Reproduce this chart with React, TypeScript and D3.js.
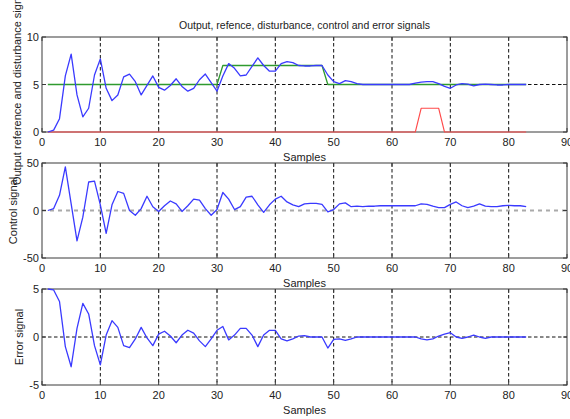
import React from "react";
import * as d3 from "d3";

// Sample index 1..83
const samples: number[] = Array.from({ length: 83 }, (_, i) => i + 1);

const outputSignal: number[] = [
  0, 0.2, 1.4, 5.9, 8.2, 3.9, 1.6, 2.5, 6.0, 7.7,
  4.6, 3.3, 3.9, 5.8, 6.1, 5.3, 3.9, 4.9, 5.9, 4.7,
  4.4, 4.9, 5.6, 4.8, 4.3, 4.6, 5.5, 6.1, 5.2, 4.3,
  5.9, 7.2, 6.7, 5.9, 6.0, 6.9, 7.8, 7.0, 6.4, 6.4,
  7.2, 7.4, 7.3, 7.0, 6.95, 6.95, 7.0, 7.0, 6.0, 5.3,
  5.1, 5.4, 5.3, 5.1, 5.0, 5.0, 5.0, 5.0, 5.0, 5.0,
  5.0, 5.0, 5.0, 5.15, 5.25, 5.3, 5.3, 5.1, 4.8, 4.6,
  4.95, 5.1, 5.05, 4.85, 5.0, 5.05, 5.0, 4.95, 4.95, 5.0,
  5.0, 5.0, 5.0,
];

const referenceSignal: number[] = [
  5, 5, 5, 5, 5, 5, 5, 5, 5, 5,
  5, 5, 5, 5, 5, 5, 5, 5, 5, 5,
  5, 5, 5, 5, 5, 5, 5, 5, 5, 5,
  7, 7, 7, 7, 7, 7, 7, 7, 7, 7,
  7, 7, 7, 7, 7, 7, 7, 7, 5, 5,
  5, 5, 5, 5, 5, 5, 5, 5, 5, 5,
  5, 5, 5, 5, 5, 5, 5, 5, 5, 5,
  5, 5, 5, 5, 5, 5, 5, 5, 5, 5,
  5, 5, 5,
];

const disturbanceSignal: number[] = [
  0, 0, 0, 0, 0, 0, 0, 0, 0, 0,
  0, 0, 0, 0, 0, 0, 0, 0, 0, 0,
  0, 0, 0, 0, 0, 0, 0, 0, 0, 0,
  0, 0, 0, 0, 0, 0, 0, 0, 0, 0,
  0, 0, 0, 0, 0, 0, 0, 0, 0, 0,
  0, 0, 0, 0, 0, 0, 0, 0, 0, 0,
  0, 0, 0, 0, 2.5, 2.5, 2.5, 2.5, 0, 0,
  0, 0, 0, 0, 0, 0, 0, 0, 0, 0,
  0, 0, 0,
];

const controlSignal: number[] = [
  0, 2, 16, 46, 7, -32, -7, 30, 31, 6,
  -24, 6, 20, 18, 0, -5, 2, 15, 4, -1,
  5, 10, 7, -1, 5, 12, 11, 2, -5, 1,
  19, 12, 1, 4, 14, 15, 6, -2, 6, 12,
  15, 9, 6, 4, 7, 7.5, 7.5, 6.5, -1.5, 1,
  7, 8, 4, 4.5, 4, 4.5, 4.5, 5, 5, 5,
  5, 5, 5, 5, 7, 6.5, 4.5, 3, 3, 6.5,
  9, 5, 3, 4.5, 7, 4.5, 4, 4, 5, 5.5,
  5, 5, 4,
];

const errorSignal: number[] = [
  5, 4.9, 3.7, -1, -3.1, 0.9, 3.5, 2.4, -0.9, -2.9,
  0.2, 1.7, 1.0, -0.9, -1.1, -0.2, 1.0, -0.1, -0.9, 0.3,
  0.6, 0.1, -0.6, 0.2, 0.7, 0.4, -0.4, -1.0, -0.2, 0.7,
  1.1, -0.3, 0.2, 0.9, 0.9, 0.2, -1.0, 0.2, 0.7, 0.7,
  -0.2, -0.4, -0.2, 0.1, 0.15, 0, 0, 0, -1.15, -0.25,
  -0.2, -0.35, -0.2, 0, 0, 0, 0, 0, 0, 0,
  0, 0, 0, 0, -0.2, -0.3, -0.2, 0.1, 0.3, 0.45,
  0, -0.15, 0, 0.2, 0, -0.15, 0, 0, 0, 0,
  0, 0, 0,
];

const xTicks: number[] = [0, 10, 20, 30, 40, 50, 60, 70, 80, 90];
const xGrid: number[] = [10, 20, 30, 40, 50, 60, 70, 80];

const titleText = "Output, refence, disturbance, control and error signals";
const xLabelText = "Samples";

const FONT = "'Liberation Sans', Arial, Helvetica, sans-serif";
const W = 570;
const H = 419;
const LEFT = 42;
const RIGHT = 567;

type Series = { values: number[]; color: string; width: number };

type PanelProps = {
  top: number;
  bottom: number;
  yDomain: [number, number];
  yTicks: number[];
  refLine: { value: number; color: string; width: number; dash: string };
  series: Series[];
  yLabel: string;
  yLabelX: number;
};

function Panel({ top, bottom, yDomain, yTicks, refLine, series, yLabel, yLabelX }: PanelProps) {
  const x = d3.scaleLinear().domain([0, 90]).range([LEFT, RIGHT]);
  const y = d3.scaleLinear().domain(yDomain).range([bottom, top]);
  const line = (vals: number[]) =>
    d3
      .line<number>()
      .x((_, i) => x(samples[i]))
      .y((v) => y(v))(vals) ?? "";
  const midY = (top + bottom) / 2;
  return (
    <g>
      {/* vertical grid */}
      {xGrid.map((t) => (
        <line
          key={"g" + t}
          x1={x(t)}
          x2={x(t)}
          y1={top}
          y2={bottom}
          stroke="#111"
          strokeWidth={1}
          strokeDasharray="3.5,2.5"
        />
      ))}
      {/* horizontal reference line */}
      <line
        x1={LEFT}
        x2={RIGHT}
        y1={y(refLine.value)}
        y2={y(refLine.value)}
        stroke={refLine.color}
        strokeWidth={refLine.width}
        strokeDasharray={refLine.dash}
      />
      {/* axes box */}
      <rect
        x={LEFT}
        y={top}
        width={RIGHT - LEFT}
        height={bottom - top}
        fill="none"
        stroke="#3a3a3a"
        strokeWidth={1}
      />
      {/* tick marks */}
      {xTicks.map((t) => (
        <g key={"t" + t}>
          <line x1={x(t)} x2={x(t)} y1={bottom} y2={bottom - 4} stroke="#3a3a3a" />
          <line x1={x(t)} x2={x(t)} y1={top} y2={top + 4} stroke="#3a3a3a" />
        </g>
      ))}
      {yTicks.map((t) => (
        <g key={"yt" + t}>
          <line x1={LEFT} x2={LEFT + 4} y1={y(t)} y2={y(t)} stroke="#3a3a3a" />
          <line x1={RIGHT} x2={RIGHT - 4} y1={y(t)} y2={y(t)} stroke="#3a3a3a" />
        </g>
      ))}
      {/* data lines */}
      {series.map((s, i) => (
        <path
          key={"s" + i}
          d={line(s.values)}
          fill="none"
          stroke={s.color}
          strokeWidth={s.width}
          strokeLinejoin="round"
        />
      ))}
      {/* x tick labels */}
      {xTicks.map((t) => (
        <text
          key={"xl" + t}
          x={x(t)}
          y={bottom + 14}
          textAnchor="middle"
          fontSize={11}
          fontFamily={FONT}
          fill="#222"
        >
          {t}
        </text>
      ))}
      {/* y tick labels */}
      {yTicks.map((t) => (
        <text
          key={"yl" + t}
          x={39}
          y={y(t) + 4}
          textAnchor="end"
          fontSize={11}
          fontFamily={FONT}
          fill="#222"
        >
          {t}
        </text>
      ))}
      <text
        x={(LEFT + RIGHT) / 2}
        y={bottom + 29}
        textAnchor="middle"
        fontSize={11}
        fontFamily={FONT}
        fill="#222"
      >
        {xLabelText}
      </text>
      <text
        transform={`translate(${yLabelX},${midY}) rotate(-90)`}
        textAnchor="middle"
        fontSize={11}
        fontFamily={FONT}
        fill="#222"
      >
        {yLabel}
      </text>
    </g>
  );
}

export default function App() {
  return (
    <svg
      width={W}
      height={H}
      viewBox={`0 0 ${W} ${H}`}
      style={{ position: "absolute", left: 0, top: 0, background: "#fff", display: "block" }}
    >
      <rect width={W} height={H} fill="#fff" />
      <text
        x={(LEFT + RIGHT) / 2}
        y={29}
        textAnchor="middle"
        fontSize={10.5}
        fontFamily={FONT}
        fill="#222"
      >
        {titleText}
      </text>
      <Panel
        top={37}
        bottom={132}
        yDomain={[0, 10]}
        yTicks={[0, 5, 10]}
        refLine={{ value: 5, color: "#111", width: 1, dash: "3.5,2.5" }}
        series={[
          { values: disturbanceSignal, color: "#ff4a4a", width: 1.1 },
          { values: referenceSignal, color: "#2f9a2f", width: 1.3 },
          { values: outputSignal, color: "#3a3aff", width: 1.3 },
        ]}
        yLabel="Output reference and disturbance signals"
        yLabelX={21}
      />
      <Panel
        top={163}
        bottom={258}
        yDomain={[-50, 50]}
        yTicks={[-50, 0, 50]}
        refLine={{ value: 0, color: "#aaaaaa", width: 2, dash: "4,4" }}
        series={[{ values: controlSignal, color: "#3a3aff", width: 1.3 }]}
        yLabel="Control signal"
        yLabelX={17}
      />
      <Panel
        top={289}
        bottom={385}
        yDomain={[-5, 5]}
        yTicks={[-5, 0, 5]}
        refLine={{ value: 0, color: "#111", width: 1, dash: "3.5,2.5" }}
        series={[{ values: errorSignal, color: "#3a3aff", width: 1.3 }]}
        yLabel="Error signal"
        yLabelX={23}
      />
    </svg>
  );
}
